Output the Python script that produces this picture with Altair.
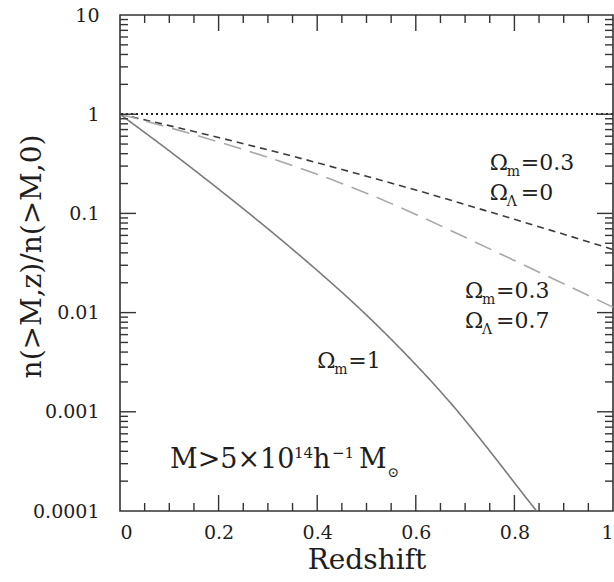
import altair as alt
import pandas as pd

# Redshift grid and abundance ratios n(>M,z)/n(>M,0) for each cosmology
z_grid = [0.0, 0.1, 0.2, 0.3, 0.4, 0.5, 0.6, 0.7, 0.8, 0.9, 1.0]
ratio_open = [1.0, 0.767, 0.582, 0.437, 0.324, 0.237, 0.172, 0.123, 0.0871, 0.0617, 0.0432]
ratio_lambda = [1.0, 0.733, 0.525, 0.367, 0.248, 0.160, 0.0977, 0.0575, 0.0335, 0.0195, 0.01135]
z_flat = [0.0, 0.1, 0.2, 0.3, 0.4, 0.5, 0.6, 0.7, 0.8, 0.845]
ratio_flat = [1.0, 0.4266, 0.1758, 0.0700, 0.02661, 0.00944, 0.002985, 0.000822, 0.000193, 0.0001]

models = ["flat", "open", "lambda"]
model_colors = ["#7a7a7a", "#3c3c3c", "#a8a8a8"]
model_dashes = [[1, 0], [7, 5], [18, 9]]

# Axis tick positions
x_labels = [0.0, 0.2, 0.4, 0.6, 0.8, 1.0]
x_major = [0.2, 0.4, 0.6, 0.8]
x_minor = [0.05, 0.1, 0.15, 0.25, 0.3, 0.35, 0.45, 0.5, 0.55, 0.65, 0.7, 0.75, 0.85, 0.9, 0.95]
y_labels = [0.0001, 0.001, 0.01, 0.1, 1, 10]
y_major = [0.001, 0.01, 0.1, 1]
y_minor = [m * d for d in [0.0001, 0.001, 0.01, 0.1, 1] for m in range(2, 10)]

# Annotation anchors (left edge of Omega, baseline) in data units
ann_x = [0.75, 0.75, 0.70, 0.70, 0.40]
ann_y = [0.274, 0.137, 0.0140, 0.0070, 0.00277]
ann_sub = ["m", "Λ", "m", "Λ", "m"]
ann_rest = ["=0.3", "=0", "=0.3", "=0.7", "=1"]

mass_x = [0.1014]
mass_y = [0.000271]

SERIF = "DejaVu Serif"
INK = "#1e1e1e"
FRAME = "#333333"
W, H = 493, 496
MAJOR, MINOR = 16, 8

rows = []
for z, r in zip(z_grid, ratio_open):
    rows.append({"z": z, "ratio": r, "model": "open"})
for z, r in zip(z_grid, ratio_lambda):
    rows.append({"z": z, "ratio": r, "model": "lambda"})
for z, r in zip(z_flat, ratio_flat):
    rows.append({"z": z, "ratio": r, "model": "flat"})
curves = pd.DataFrame(rows)

ann = pd.DataFrame({"x": ann_x, "y": ann_y, "sub": ann_sub, "rest": ann_rest})
mass = pd.DataFrame({"x": mass_x, "y": mass_y})

xscale = alt.Scale(domain=[0, 1], nice=False, zero=False)
yscale = alt.Scale(type="log", domain=[0.0001, 10], nice=False)

label_x_axis = alt.Axis(
    orient="bottom", values=x_labels, format="~g", grid=False, domain=False,
    ticks=False, tickSize=0, labelPadding=12, labelFont=SERIF, labelFontSize=19,
    labelColor=INK, title="Redshift", titleFont=SERIF, titleFontSize=28,
    titleFontWeight="normal", titleColor=INK, titleX=246.5, titleY=57,
    titleBaseline="alphabetic", titleAlign="center",
)
label_y_axis = alt.Axis(
    orient="left", values=y_labels, format="~g", grid=False, domain=False,
    ticks=False, tickSize=0, labelPadding=21, labelFont=SERIF, labelFontSize=19,
    labelColor=INK, labelBaseline="middle", title="n(>M,z)/n(>M,0)",
    titleFont=SERIF, titleFontSize=28, titleFontWeight="normal",
    titleColor=INK, titleX=-88, titleY=241, titleBaseline="middle",
    titleAlign="center", titleAngle=-90,
)

lines = alt.Chart(curves).mark_line(strokeWidth=1.6, interpolate="natural").encode(
    x=alt.X("z:Q", scale=xscale, axis=label_x_axis),
    y=alt.Y("ratio:Q", scale=yscale, axis=label_y_axis),
    color=alt.Color("model:N", scale=alt.Scale(domain=models, range=model_colors), legend=None),
    strokeDash=alt.StrokeDash("model:N", scale=alt.Scale(domain=models, range=model_dashes), legend=None),
)

unity = alt.Chart(curves).mark_rule(color="#222222", strokeWidth=1.3, strokeDash=[2, 3]).encode(
    y=alt.datum(1, scale=yscale, axis=None),
)


# Inward-pointing ticks on all four sides of the frame
def x_ticks(values, length):
    df = pd.DataFrame({"v": values})
    base = alt.Chart(df).mark_rule(color=FRAME, strokeWidth=1.4)
    bottom = base.encode(
        x=alt.X("v:Q", scale=xscale, axis=None),
        y=alt.value(H), y2=alt.value(H - length),
    )
    top = base.encode(
        x=alt.X("v:Q", scale=xscale, axis=None),
        y=alt.value(0), y2=alt.value(length),
    )
    return [bottom, top]


def y_ticks(values, length):
    df = pd.DataFrame({"v": values})
    base = alt.Chart(df).mark_rule(color=FRAME, strokeWidth=1.4)
    left = base.encode(
        y=alt.Y("v:Q", scale=yscale, axis=None),
        x=alt.value(0), x2=alt.value(length),
    )
    right = base.encode(
        y=alt.Y("v:Q", scale=yscale, axis=None),
        x=alt.value(W), x2=alt.value(W - length),
    )
    return [left, right]


tick_layers = (
    x_ticks(x_major, MAJOR) + x_ticks(x_minor, MINOR)
    + y_ticks(y_major, MAJOR) + y_ticks(y_minor, MINOR)
)


def text_layer(df, text, size, dx=0, dy=0, align="left", field=False):
    enc = dict(
        x=alt.X("x:Q", scale=xscale, axis=None),
        y=alt.Y("y:Q", scale=yscale, axis=None),
        text=alt.Text(f"{text}:N") if field else alt.value(text),
    )
    return alt.Chart(df).mark_text(
        font=SERIF, fontSize=size, color=INK, align=align, baseline="alphabetic",
        dx=dx, dy=dy,
    ).encode(**enc)


omega = text_layer(ann, "Ω", 22)
omega_sub = text_layer(ann, "sub", 14, dx=17, dy=6, field=True)
omega_rest = text_layer(ann, "rest", 22, dx=31, field=True)

mass_parts = [
    text_layer(mass, "M>5×10", 27),
    text_layer(mass, "14", 15, dx=124, dy=-10),
    text_layer(mass, "h", 27, dx=143),
    text_layer(mass, "−1", 15, dx=162, dy=-10),
    text_layer(mass, "M", 27, dx=189),
    text_layer(mass, "⊙", 14, dx=223, dy=9, align="center"),
]

chart = alt.layer(
    lines, unity, *tick_layers, omega, omega_sub, omega_rest, *mass_parts
).resolve_axis(
    x="independent", y="independent"
).properties(
    width=W, height=H,
    padding={"left": 120, "top": 15, "right": 1, "bottom": 71},
    autosize=alt.AutoSizeParams(type="none"),
    background="white",
).configure_view(
    stroke=FRAME, strokeWidth=1.6,
)

chart.save("out.html", embed_options={"renderer": "svg", "actions": False})
